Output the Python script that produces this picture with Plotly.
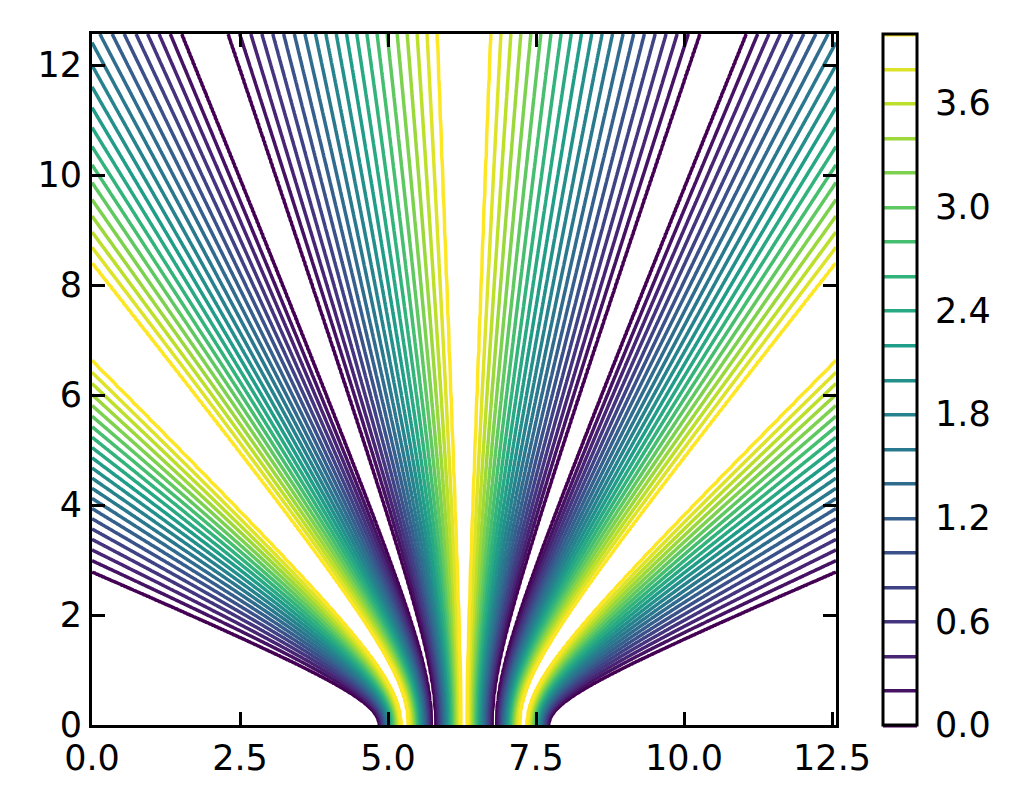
import numpy as np
import plotly.graph_objects as go

# Field structure: level value versus the confocal
# "angle" coordinate s = |cos(nu)| about the centre x = 2*pi on the bottom edge.
s_knots = [0.0, 0.036, 0.300, 0.326, 0.353, 0.594, 0.640, 0.683, 0.910, 1.0]
f_knots = [4.2, 4.0, 0.0, -0.1, 0.0, 4.0, 4.1, 4.0, 0.0, -0.5]
focal_half = np.pi / 2
centre = 2 * np.pi

level_start = 0.0
level_end = 4.0
level_step = 0.2

x_ticks = [0.0, 2.5, 5.0, 7.5, 10.0, 12.5]
x_ticktext = ["0.0", "2.5", "5.0", "7.5", "10.0", "12.5"]
y_ticks = [0, 2, 4, 6, 8, 10, 12]
y_ticktext = ["0", "2", "4", "6", "8", "10", "12"]
cb_ticks = [0.0, 0.6, 1.2, 1.8, 2.4, 3.0, 3.6]
cb_ticktext = ["0.0", "0.6", "1.2", "1.8", "2.4", "3.0", "3.6"]

x = np.linspace(0, 4 * np.pi, 501)
y = np.linspace(0, 4 * np.pi, 501)
X, Y = np.meshgrid(x, y)
Zc = (X - centre) + 1j * Y
s = np.abs((np.abs(Zc + focal_half) - np.abs(Zc - focal_half)) / (2 * focal_half))
F = np.interp(s, s_knots, f_knots)

fnt = dict(family="DejaVu Sans", size=35, color="black")

# page body has an 8px default margin; compensate so the axes land where the reference has them
off = 8
L, R, T, B = 92 - off, 1021 - 836 + off, 34 - off, 807 - 725 + off

fig = go.Figure(go.Contour(
    x=x, y=y, z=F,
    zmin=level_start, zmax=level_end, zauto=False,
    colorscale="Viridis",
    contours=dict(coloring="lines", start=level_start, end=level_end + 1e-4, size=level_step),
    line=dict(width=3.5, smoothing=0.6),
    colorbar=dict(
        x=(883 - 92) / (836 - 92), xanchor="left", xpad=0,
        y=0, yanchor="bottom", ypad=0, len=1, lenmode="fraction",
        thickness=34, outlinewidth=3, outlinecolor="black",
        tickvals=cb_ticks, ticktext=cb_ticktext,
        ticks="outside", ticklen=10, tickwidth=1, tickcolor="rgba(0,0,0,0)",
        tickfont=fnt,
    ),
))

axis_common = dict(
    ticks="inside", ticklen=13, tickwidth=3, tickcolor="black",
    showline=True, linewidth=3, linecolor="black", mirror="ticks",
    showgrid=False, zeroline=False, tickfont=fnt,
)
fig.update_xaxes(range=[0, 4 * np.pi], tickvals=x_ticks, ticktext=x_ticktext, **axis_common)
fig.update_yaxes(range=[0, 4 * np.pi], tickvals=y_ticks, ticktext=y_ticktext, **axis_common)

fig.update_layout(
    width=1021, height=807,
    margin=dict(l=L, r=R, t=T, b=B),
    paper_bgcolor="white", plot_bgcolor="white",
    font=fnt, showlegend=False,
)
fig.write_html("out.html")
